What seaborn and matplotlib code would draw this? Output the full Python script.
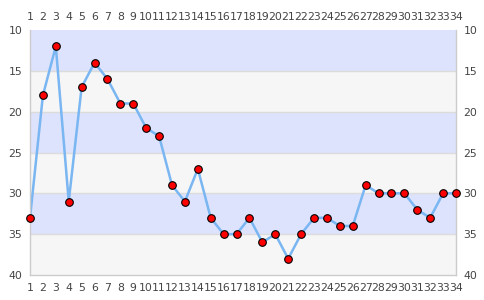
import matplotlib
matplotlib.use("Agg")
import matplotlib.pyplot as plt
import seaborn as sns
import pandas as pd

x_vals = list(range(1, 35))
y_vals = [33, 18, 12, 31, 17, 14, 16, 19, 19, 22, 23, 29, 31, 27, 33, 35, 35, 33, 36, 35,
          38, 35, 33, 33, 34, 34, 29, 30, 30, 30, 32, 33, 30, 30]
y_ticks = [10, 15, 20, 25, 30, 35, 40]

sns.set_style("white")
plt.rcParams['font.family'] = ['DejaVu Sans']

df = pd.DataFrame({"x": x_vals, "y": y_vals})

fig = plt.figure(figsize=(4.85, 3.0), dpi=100)
ax = fig.add_axes([30/485, 25/300, 426/485, 245/300])

band_colors = ["#dde3fd", "#f6f6f6"]
for i in range(len(y_ticks) - 1):
    ax.axhspan(y_ticks[i], y_ticks[i + 1], color=band_colors[i % 2], zorder=0, lw=0)
for t in y_ticks[1:-1]:
    ax.axhline(t, color="#dcdcdc", lw=1, zorder=1)

sns.lineplot(data=df, x="x", y="y", ax=ax, color="#79b6f2", lw=1.8, zorder=2)
sns.scatterplot(data=df, x="x", y="y", ax=ax, color="#ff0000", edgecolor="black",
                linewidth=0.8, s=30, zorder=3, clip_on=False)

ax.set_xlim(1, 34)
ax.set_ylim(40, 10)
ax.set_xticks(x_vals)
ax.set_yticks(y_ticks)
ax.set_xlabel("")
ax.set_ylabel("")
ax.tick_params(axis="both", which="both", length=0, labelsize=7.8, colors="#444444")
ax.tick_params(axis="x", labeltop=True, labelbottom=True, pad=6)
ax.tick_params(axis="y", labelleft=True, labelright=True, pad=5.5)
for s in ax.spines.values():
    s.set_color("#cccccc")
    s.set_linewidth(1)
ax.spines["top"].set_visible(False)

fig.savefig("out.png", dpi=100)
